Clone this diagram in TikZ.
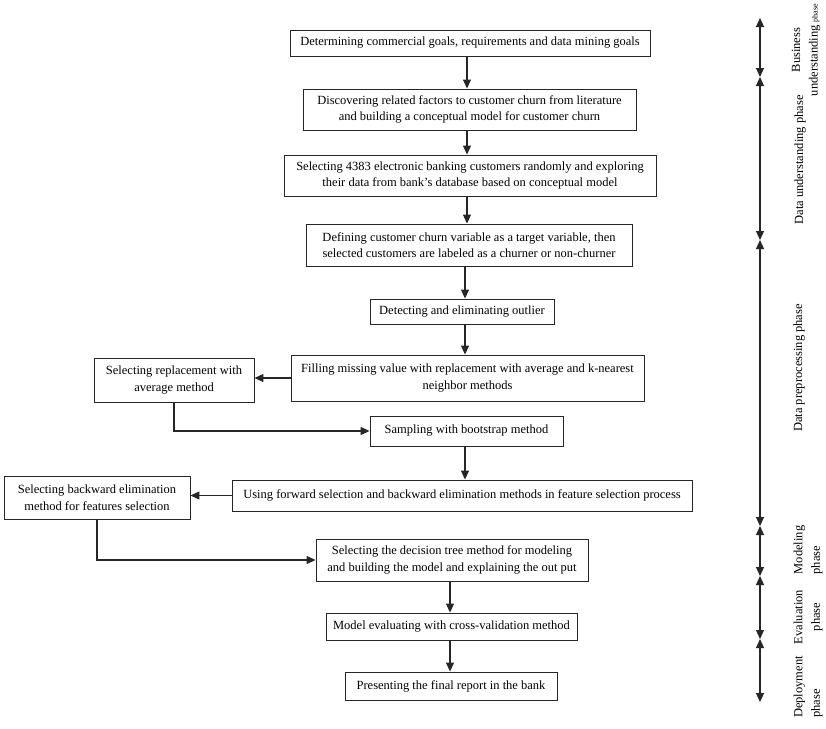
\documentclass[tikz,border=0pt]{standalone}
\usepackage{fontspec}
\setmainfont{Liberation Serif}
\usetikzlibrary{arrows.meta}
\begin{document}
\begin{tikzpicture}[x=1pt,y=1pt,
  every node/.style={font=\fontsize{12.5}{16.5}\selectfont},
  box/.style={draw=black!85,line width=0.9pt,inner sep=0pt,align=center},
  arr/.style={draw=black!85,line width=1.1pt,-{Triangle[length=9pt,width=8pt]}},
  tl/.style={draw=black!85,line width=1.1pt,{Triangle[length=9pt,width=8pt]}-{Triangle[length=9pt,width=8pt]}},
  phs/.style={rotate=90,inner sep=0pt,align=left,font=\fontsize{12.5}{17.5}\selectfont}
]
\useasboundingbox (0,0) rectangle (826,-728);
% boxes
\node[box,minimum width=360,minimum height=26] (b1) at (470,-43) {Determining commercial goals, requirements and data mining goals};
\node[box,minimum width=333,minimum height=41] (b2) at (469.5,-109.5) {Discovering related factors to customer churn from literature\\and building a conceptual model for customer churn};
\node[box,minimum width=372,minimum height=41] (b3) at (470,-175.5) {Selecting 4383 electronic banking customers randomly and exploring\\their data from bank’s database based on conceptual model};
\node[box,minimum width=326,minimum height=42] (b4) at (469,-245) {Defining customer churn variable as a target variable, then\\selected customers are labeled as a churner or non-churner};
\node[box,minimum width=184,minimum height=25] (b5) at (462,-311.5) {Detecting and eliminating outlier};
\node[box,minimum width=353,minimum height=46] (b6) at (467.5,-378) {Filling missing value with replacement with average and k-nearest\\neighbor methods};
\node[box,minimum width=160,minimum height=44] (b7) at (174,-380) {Selecting replacement with\\average method};
\node[box,minimum width=193,minimum height=30] (b8) at (466.5,-431) {Sampling with bootstrap method};
\node[box,minimum width=460,minimum height=31] (b9) at (462,-495.5) {Using forward selection and backward elimination methods in feature selection process};
\node[box,minimum width=186,minimum height=43] (b10) at (97,-497.5) {Selecting backward elimination\\method for features selection};
\node[box,minimum width=272,minimum height=42] (b11) at (452,-560) {Selecting the decision tree method for modeling\\and building the model and explaining the out put};
\node[box,minimum width=251,minimum height=27] (b12) at (451.5,-626.5) {Model evaluating with cross-validation method};
\node[box,minimum width=212,minimum height=28] (b13) at (451,-686) {Presenting the final report in the bank};
% arrow columns
\coordinate (ca) at (467,0);
\coordinate (cb) at (465,0);
\coordinate (cc) at (450,0);
\draw[arr] (b1.south -| ca) -- (b2.north -| ca);
\draw[arr] (b2.south -| ca) -- (b3.north -| ca);
\draw[arr] (b3.south -| ca) -- (b4.north -| ca);
\draw[arr] (b4.south -| cb) -- (b5.north -| cb);
\draw[arr] (b5.south -| cb) -- (b6.north -| cb);
\draw[arr] (b8.south -| cb) -- (b9.north -| cb);
\draw[arr] (b11.south -| cc) -- (b12.north -| cc);
\draw[arr] (b12.south -| cc) -- (b13.north -| cc);
\draw[arr] (b6.west) -- (b7.east |- b6.west);
\draw[arr] (b7.south) |- (b8.west);
\draw[arr] (b9.west) -- (b10.east |- b9.west);
\draw[arr] (b10.south) |- (b11.west);
% timeline
\coordinate (t0) at (760,-18);
\coordinate (t1) at (760,-77);
\coordinate (t2) at (760,-240);
\coordinate (t3) at (760,-526);
\coordinate (t4) at (760,-576);
\coordinate (t5) at (760,-639);
\coordinate (t6) at (760,-702);
\draw[tl] (t0) -- (t1);
\draw[tl] (t1) -- (t2);
\draw[tl] (t2) -- (t3);
\draw[tl] (t3) -- (t4);
\draw[tl] (t4) -- (t5);
\draw[tl] (t5) -- (t6);
% phase labels
\node[phs,align=center] (p1) at (806,-50) {Business\\understanding {\fontsize{8}{9}\selectfont phase}};
\node[phs] (p2) at (800,-160) {Data understanding phase};
\node[phs] (p3) at (799,-368) {Data preprocessing phase};
\node[phs] (p4) at (808,-550) {Modeling\\phase};
\node[phs,align=center] (p5) at (808,-617) {Evaluation\\phase};
\node[phs] (p6) at (808,-687) {Deployment\\phase};
\end{tikzpicture}
\end{document}
